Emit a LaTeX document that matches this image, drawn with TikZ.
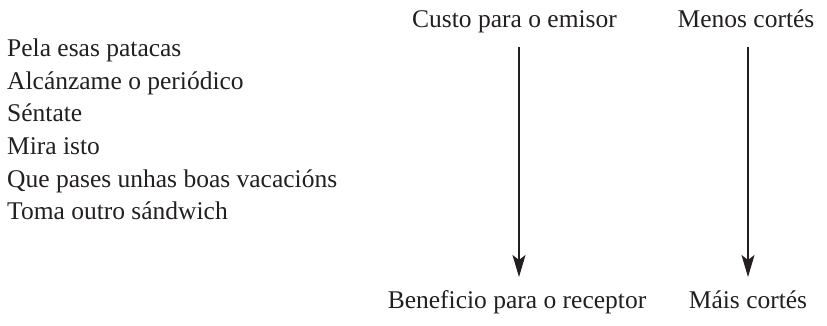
\documentclass[tikz,border=0pt]{standalone}
\usepackage{fontspec}
\setmainfont{Liberation Serif}
\usetikzlibrary{arrows.meta}
\definecolor{ink}{HTML}{231F20}
\begin{document}
\begin{tikzpicture}[x=1pt,y=1pt,
  lbl/.style={inner sep=0pt, font=\fontsize{25.5}{30}\selectfont, text=ink},
  item/.style={lbl, anchor=base west},
  head/.style={lbl, anchor=base},
  arr/.style={draw=ink, line width=1.1pt, -{Stealth[length=22pt,width=13pt,inset=5pt]}}]
\useasboundingbox (0,0) rectangle (827,-326);
\node[item] (i1) at (7,-57) {Pela esas patacas};
\node[item] (i2) at (7,-89.5) {Alcánzame o periódico};
\node[item] (i3) at (7,-122) {Séntate};
\node[item] (i4) at (7,-154.5) {Mira isto};
\node[item] (i5) at (7,-187) {Que pases unhas boas vacacións};
\node[item] (i6) at (7,-219.5) {Toma outro sándwich};
\node[head] (t1) at (514.5,-28) {Custo para o emisor};
\node[head] (t2) at (746,-28) {Menos cortés};
\node[head] (b1) at (517,-308) {Beneficio para o receptor};
\node[head] (b2) at (748,-308) {Máis cortés};
\coordinate (s1) at (519,-47);
\coordinate (e1) at (519,-277);
\coordinate (s2) at (748,-47);
\coordinate (e2) at (748,-277);
\draw[arr] (s1) -- (e1);
\draw[arr] (s2) -- (e2);
\end{tikzpicture}
\end{document}
